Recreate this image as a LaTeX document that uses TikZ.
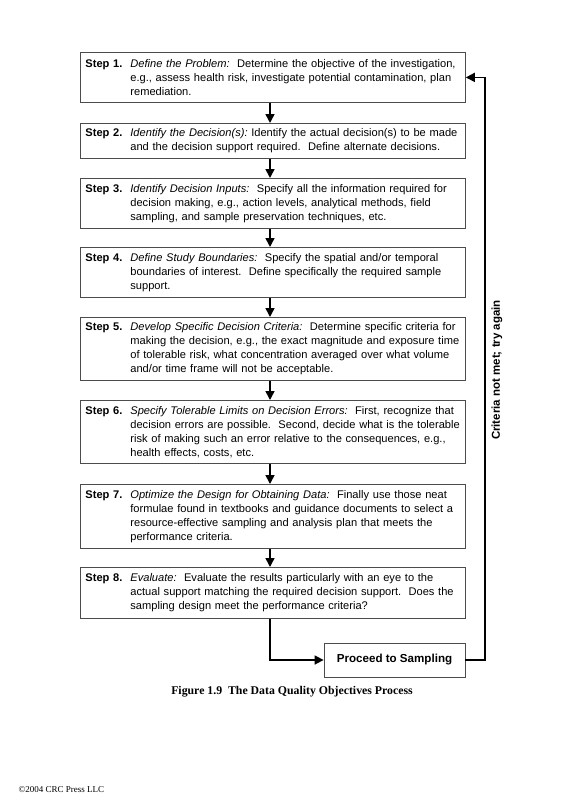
\documentclass[tikz,border=0pt]{standalone}
\usepackage{fontspec}
\setmainfont{Liberation Sans}
\newfontfamily\capfont{Liberation Serif}
\usetikzlibrary{arrows.meta}
\newcommand{\stepline}[3]{\makebox[45pt][l]{\bfseries Step #1.}\parbox[t]{340pt}{\raggedright\textit{#2:}#3}}
\tikzset{
  stepbox/.style={draw=black!70, line width=0.8pt, anchor=north west, minimum width=385pt,
    text width=375pt, inner xsep=5pt, inner ysep=2pt, align=left,
    font=\fontsize{11.1pt}{14pt}\selectfont},
  flow/.style={line width=1.6pt, -{Triangle[length=9pt,width=9pt]}},
}
\begin{document}
\begin{tikzpicture}[x=1pt,y=-1pt]
\useasboundingbox (0,0) rectangle (578,800);
\node[stepbox, minimum height=50pt] (b1) at (80,52) {\stepline{1}{Define the Problem}{\ \ Determine the objective of the investigation,\\ e.g., assess health risk, investigate potential contamination, plan\\ remediation.}};
\node[stepbox, minimum height=35pt] (b2) at (80,123) {\stepline{2}{Identify the Decision(s)}{\ Identify the actual decision(s) to be made\\ and the decision support required.\ \ Define alternate decisions.}};
\node[stepbox, minimum height=50pt] (b3) at (80,178) {\stepline{3}{Identify Decision Inputs}{\ \ Specify all the information required for\\ decision making, e.g., action levels, analytical methods, field\\ sampling, and sample preservation techniques, etc.}};
\node[stepbox, minimum height=50pt] (b4) at (80,247) {\stepline{4}{Define Study Boundaries}{\ \ Specify the spatial and/or temporal\\ boundaries of interest.\ \ Define specifically the required sample\\ support.}};
\node[stepbox, minimum height=63pt] (b5) at (80,317) {\stepline{5}{Develop Specific Decision Criteria}{\ \ Determine specific criteria for\\ making the decision, e.g., the exact magnitude and exposure time\\ of tolerable risk, what concentration averaged over what volume\\ and/or time frame will not be acceptable.}};
\node[stepbox, minimum height=63pt] (b6) at (80,400) {\stepline{6}{Specify Tolerable Limits on Decision Errors}{\ \ First, recognize that\\ decision errors are possible.\ \ Second, decide what is the tolerable\\ risk of making such an error relative to the consequences, e.g.,\\ health effects, costs, etc.}};
\node[stepbox, minimum height=64pt] (b7) at (80,484) {\stepline{7}{Optimize the Design for Obtaining Data}{\ \ Finally use those neat\\ formulae found in textbooks and guidance documents to select a\\ resource-effective sampling and analysis plan that meets the\\ performance criteria.}};
\node[stepbox, minimum height=51pt] (b8) at (80,567) {\stepline{8}{Evaluate}{\ \ Evaluate the results particularly with an eye to the\\ actual support matching the required decision support.\ \ Does the\\ sampling design meet the performance criteria?}};
\node[draw=black!70, line width=0.8pt, minimum width=141pt, minimum height=34pt, font=\fontsize{11.6pt}{14pt}\selectfont\bfseries] (p) at (394.5,660) {Proceed to Sampling};
\coordinate (ax) at (270,0);
\coordinate (fx) at (485,0);
\foreach \a/\b in {b1/b2,b2/b3,b3/b4,b4/b5,b5/b6,b6/b7,b7/b8}{
  \draw[flow] (\a.south -| ax) -- (\b.north -| ax);
}
\draw[flow] (b8.south -| ax) |- (p.west);
\draw[flow] (p.east) -- (p.east -| fx) |- (b1.east);
\node[rotate=90, font=\fontsize{11.5pt}{12pt}\selectfont\bfseries] (lab) at (497,370) {Criteria not met; try again};
\node[font=\capfont\fontsize{11.8pt}{14pt}\selectfont\bfseries] (cap) at (292,692) {Figure 1.9\ \ The Data Quality Objectives Process};
\node[font=\capfont\fontsize{9pt}{11pt}\selectfont, anchor=west] (copy) at (15,790) {\textcopyright2004 CRC Press LLC};
\end{tikzpicture}
\end{document}
